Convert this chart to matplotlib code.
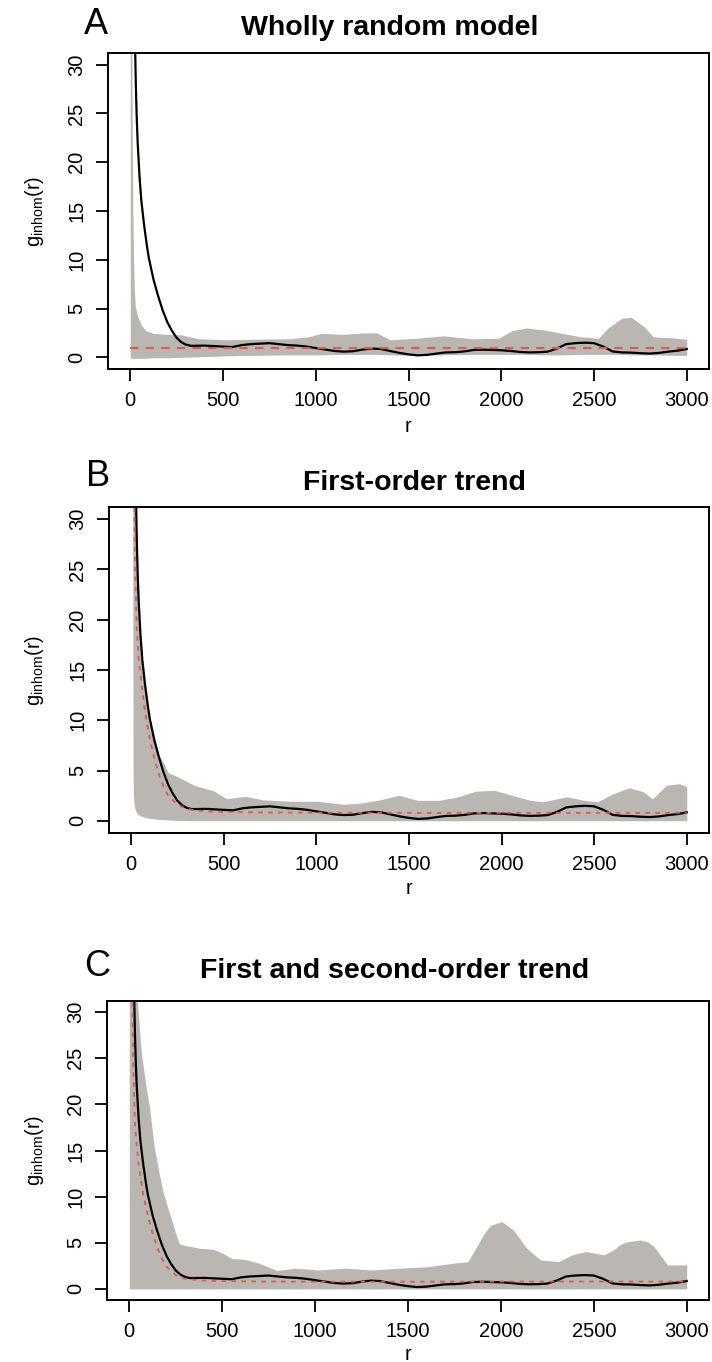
import matplotlib
matplotlib.use("Agg")
import matplotlib.pyplot as plt

# observed g_inhom(r) (black line), same in all three panels
obs_r = [10, 15, 20, 25, 30, 35, 40, 50, 60, 75, 90, 100, 125, 150, 175, 200, 225, 250, 275, 300,
         325, 350, 400, 450, 500, 550, 600, 650, 700, 750, 800, 850, 900, 950, 1000, 1050, 1100,
         1150, 1200, 1250, 1300, 1350, 1400, 1450, 1500, 1550, 1600, 1650, 1700, 1750, 1800,
         1850, 1900, 1950, 2000, 2050, 2100, 2150, 2200, 2250, 2300, 2350, 2400, 2450, 2500,
         2550, 2600, 2650, 2700, 2750, 2800, 2850, 2900, 2950, 3000]
obs_g = [80, 52, 40, 33, 28, 24.5, 22, 18.5, 16, 13.5, 11.4, 10.2, 8.0, 6.3, 4.8, 3.6, 2.7, 2.0,
         1.55, 1.3, 1.18, 1.18, 1.2, 1.15, 1.1, 1.05, 1.25, 1.35, 1.4, 1.45, 1.35, 1.25, 1.2,
         1.1, 0.95, 0.8, 0.65, 0.58, 0.62, 0.78, 0.9, 0.85, 0.65, 0.45, 0.3, 0.2, 0.25, 0.38,
         0.5, 0.52, 0.6, 0.75, 0.78, 0.75, 0.72, 0.65, 0.55, 0.5, 0.52, 0.58, 0.9, 1.35, 1.45,
         1.5, 1.45, 1.1, 0.6, 0.5, 0.48, 0.42, 0.38, 0.45, 0.58, 0.68, 0.85]

# panel A: wholly random model
env_a_r = [0, 5, 10, 14, 18, 22, 27, 40, 60, 85, 125, 200, 275, 370, 520, 660, 860, 960, 1030,
           1150, 1250, 1330, 1400, 1545, 1690, 1840, 1985, 2060, 2135, 2230, 2330, 2430, 2525,
           2575, 2650, 2700, 2770, 2820, 2920, 3000]
env_a_hi = [60, 45, 25, 15, 10, 7, 5.2, 4.2, 3.3, 2.7, 2.45, 2.35, 2.3, 1.9, 1.8, 1.85, 1.9, 2.1,
            2.45, 2.35, 2.5, 2.5, 1.8, 1.95, 2.2, 1.9, 1.95, 2.75, 3.0, 2.8, 2.45, 2.1, 1.95,
            3.0, 4.0, 4.1, 3.15, 2.1, 2.0, 1.85]
env_a_lo = [-0.1, -0.1, -0.1, -0.1, -0.1, -0.1, -0.1, -0.1, -0.1, -0.1, -0.05, -0.05, 0.0, 0.05,
            0.15, 0.2, 0.25, 0.25, 0.25, 0.3, 0.3, 0.3, 0.25, 0.2, 0.25, 0.3, 0.3, 0.3, 0.3,
            0.25, 0.25, 0.3, 0.3, 0.3, 0.3, 0.25, 0.25, 0.25, 0.2, 0.2]
theo_a_r = [0, 3000]
theo_a = [1.0, 1.0]

# panel B: first-order trend
env_b_r = [8, 10, 12, 17, 20, 30, 40, 50, 75, 100, 150, 200, 250, 345, 445, 515, 615, 710, 860,
           1005, 1150, 1250, 1345, 1445, 1545, 1665, 1765, 1860, 1960, 2055, 2155, 2225, 2350,
           2445, 2520, 2595, 2690, 2765, 2815, 2890, 2960, 3000]
env_b_hi = [60, 50, 45, 36, 32, 26, 21, 17.5, 13, 10, 6.6, 4.8, 4.4, 3.5, 3.0, 2.2, 2.45, 2.1,
            1.95, 1.95, 1.65, 1.8, 2.1, 2.55, 2.05, 2.05, 2.4, 2.95, 3.05, 2.55, 2.05, 1.9,
            2.4, 2.05, 1.9, 2.65, 3.3, 2.9, 2.2, 3.55, 3.7, 3.4]
env_b_lo = [30, 5, 2.5, 1.5, 1.2, 0.8, 0.6, 0.5, 0.35, 0.25, 0.15, 0.1, 0.05, 0.02, 0.02, 0.02,
            0.02, 0.02, 0.02, 0.02, 0.02, 0.02, 0.02, 0.02, 0.02, 0.02, 0.02, 0.02, 0.02, 0.02,
            0.02, 0.02, 0.02, 0.02, 0.02, 0.02, 0.02, 0.02, 0.02, 0.02, 0.02, 0.02]
theo_b_r = [10, 20, 30, 40, 50, 75, 100, 125, 150, 175, 200, 250, 300, 350, 400, 500, 700,
            1000, 1500, 2000, 2500, 3000]
theo_b = [45, 26, 19, 16.2, 14.5, 10.8, 8.2, 6.2, 4.6, 3.4, 2.5, 1.6, 1.2, 1.05, 0.95, 0.9,
          0.85, 0.82, 0.8, 0.8, 0.8, 0.8]

# panel C: first and second-order trend
env_c_r = [0, 40, 65, 90, 110, 134, 160, 183, 210, 232, 250, 269, 300, 330, 379, 452, 500, 550,
           623, 697, 795, 892, 1015, 1161, 1308, 1455, 1601, 1748, 1822, 1870, 1910, 1944, 2005,
           2066, 2100, 2139, 2213, 2310, 2384, 2457, 2555, 2604, 2640, 2677, 2750, 2790, 2824,
           2860, 2897, 3000]
env_c_hi = [60, 32, 25.5, 22, 19.5, 15.4, 12.6, 10.4, 8.6, 7.2, 6.0, 4.9, 4.7, 4.6, 4.4, 4.3,
            3.9, 3.3, 3.2, 2.8, 2.0, 2.25, 2.05, 2.25, 2.05, 2.25, 2.4, 2.8, 2.95, 4.6, 6.0,
            6.9, 7.3, 6.4, 5.5, 4.4, 3.15, 2.95, 3.7, 4.05, 3.7, 4.2, 4.8, 5.1, 5.3, 5.1, 4.6,
            3.6, 2.6, 2.6]
env_c_lo = 0.0
theo_c_r = [10, 20, 30, 40, 50, 75, 100, 125, 150, 175, 200, 250, 300, 350, 400, 500, 700,
            1000, 1500, 2000, 2500, 3000]
theo_c = [45, 25, 18, 15.5, 13.5, 10.2, 7.9, 6.1, 4.5, 3.3, 2.4, 1.5, 1.1, 1.0, 0.9, 0.85,
          0.8, 0.78, 0.78, 0.8, 0.8, 0.8]

letters = ["A", "B", "C"]
titles = ["Wholly random model", "First-order trend", "First and second-order trend"]
xticks = [0, 500, 1000, 1500, 2000, 2500, 3000]
yticks = [0, 5, 10, 15, 20, 25, 30]

GREY = "#bab6b2"
RED = "#e4574b"
W, H = 712, 1362

plt.rcParams["font.family"] = ["Liberation Sans", "DejaVu Sans"]
plt.rcParams["mathtext.fontset"] = "custom"
plt.rcParams["mathtext.rm"] = "Liberation Sans"
plt.rcParams["mathtext.it"] = "Liberation Sans"

fig = plt.figure(figsize=(W / 100, H / 100), dpi=100)


def px_axes(left, top, right, bottom):
    return fig.add_axes([left / W, 1 - bottom / H, (right - left) / W, (bottom - top) / H])


# (left, top, right, bottom) in pixels, plus title / letter / xlabel positions
boxes = [(108, 53, 709, 369), (109, 507, 709, 833), (107, 1001, 709, 1300)]
title_pos = [(390, 28), (414, 483), (395, 971)]
letter_pos = [(96, 24), (98, 477), (97, 967)]
xlabel_y = [426, 888, 1354]

panels = [
    (env_a_r, env_a_lo, env_a_hi, theo_a_r, theo_a, (0, (4, 3.5)), 1.5),
    (env_b_r, env_b_lo, env_b_hi, theo_b_r, theo_b, (0, (2.5, 3)), 1.3),
    (env_c_r, env_c_lo, env_c_hi, theo_c_r, theo_c, (0, (2.5, 3)), 1.3),
]

for i, (er, elo, ehi, tr, tv, dash, rlw) in enumerate(panels):
    ax = px_axes(*boxes[i])
    ax.fill_between(er, elo, ehi, color=GREY, lw=0)
    ax.plot(obs_r, obs_g, color="black", lw=1.6)
    ax.plot(tr, tv, color=RED, lw=rlw, linestyle=dash)

    ax.set_xlim(-120, 3120)
    ax.set_ylim(-1.2, 31.2)
    ax.set_xticks(xticks)
    ax.set_yticks(yticks)
    ax.tick_params(length=8.5, width=1.3, labelsize=14.5, pad=7)
    for lab in ax.get_yticklabels():
        lab.set_rotation(90)
        lab.set_va("center")
    for sp in ax.spines.values():
        sp.set_linewidth(1.4)

    fig.text(title_pos[i][0] / W, 1 - title_pos[i][1] / H, titles[i],
             ha="center", va="center", fontsize=20.5, fontweight="bold")
    fig.text(letter_pos[i][0] / W, 1 - letter_pos[i][1] / H, letters[i],
             ha="center", va="center", fontsize=26)
    ymid = (boxes[i][1] + boxes[i][3]) / 2
    fig.text(34 / W, 1 - ymid / H, r"g$_{\mathregular{inhom}}$(r)",
             ha="center", va="center", rotation=90, fontsize=14.5)
    fig.text((boxes[i][0] + boxes[i][2]) / 2 / W, 1 - xlabel_y[i] / H, "r",
             ha="center", va="center", fontsize=14.5)

fig.savefig("out.png", dpi=100)
